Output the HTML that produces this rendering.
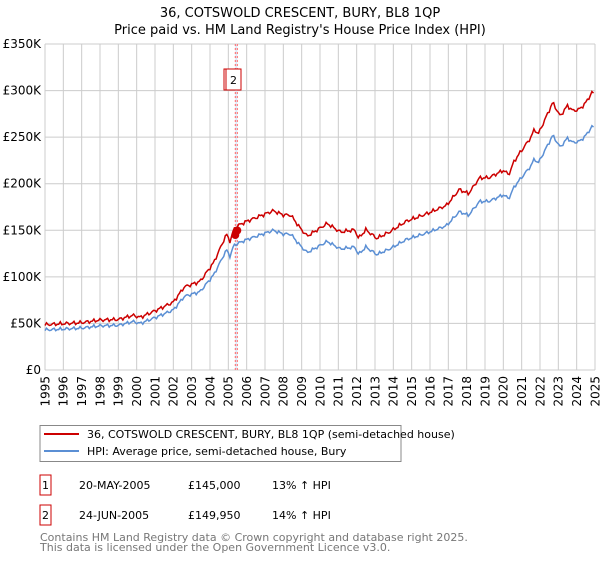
<!DOCTYPE html>
<html><head><meta charset="utf-8"><style>
body{margin:0;background:#fff;width:600px;height:560px;overflow:hidden;font-family:"DejaVu Sans","Liberation Sans",sans-serif;}
svg text{font-family:"DejaVu Sans","Liberation Sans",sans-serif;}
</style></head><body>
<svg id="s" width="600" height="560" xmlns="http://www.w3.org/2000/svg">
<text x="300" y="17" text-anchor="middle" font-size="13" fill="#000">36, COTSWOLD CRESCENT, BURY, BL8 1QP</text>
<text x="300" y="34" text-anchor="middle" font-size="13" fill="#000">Price paid vs. HM Land Registry's House Price Index (HPI)</text>
<g id="grid" stroke="#cccccc" stroke-width="1"></g>
<rect x="235.3" y="44" width="2" height="326" fill="#dde8f8"/>
<line x1="235.3" y1="44" x2="235.3" y2="370" stroke="#ff6666" stroke-dasharray="2,2"/>
<line x1="237.3" y1="44" x2="237.3" y2="370" stroke="#ff6666" stroke-dasharray="2,2"/>
<g id="ylab" font-size="12" fill="#000" text-anchor="end"></g>
<g id="xlab" font-size="12" fill="#000" text-anchor="end"></g>
<path id="blue" fill="none" stroke="#5b8fd4" stroke-width="1.5"/>
<path id="red" fill="none" stroke="#cc0000" stroke-width="1.5"/>
<circle cx="235.3" cy="235" r="4" fill="#cc0000"/>
<circle cx="237.3" cy="230.5" r="4" fill="#cc0000"/>
<rect x="224" y="69" width="15" height="21" fill="#fff" stroke="#cc0000"/>
<rect x="226" y="69" width="15" height="21" fill="#fff" stroke="#cc0000"/>
<text x="233.5" y="84" text-anchor="middle" font-size="11">2</text>
<rect x="40" y="425.5" width="361" height="36" fill="#fff" stroke="#888"/>
<line x1="44" y1="434" x2="79" y2="434" stroke="#cc0000" stroke-width="2"/>
<line x1="44" y1="451" x2="79" y2="451" stroke="#5b8fd4" stroke-width="2"/>
<text x="87" y="438" font-size="11">36, COTSWOLD CRESCENT, BURY, BL8 1QP (semi-detached house)</text>
<text x="87" y="455" font-size="11">HPI: Average price, semi-detached house, Bury</text>
<rect x="40" y="475" width="11" height="20" fill="none" stroke="#cc0000"/>
<text x="45.5" y="489" text-anchor="middle" font-size="11">1</text>
<text x="79" y="489" font-size="11">20-MAY-2005</text>
<text x="188" y="489" font-size="11">£145,000</text>
<text x="272" y="489" font-size="11">13% ↑ HPI</text>
<rect x="40" y="505" width="11" height="20" fill="none" stroke="#cc0000"/>
<text x="45.5" y="519" text-anchor="middle" font-size="11">2</text>
<text x="79" y="519" font-size="11">24-JUN-2005</text>
<text x="188" y="519" font-size="11">£149,950</text>
<text x="272" y="519" font-size="11">14% ↑ HPI</text>
<text x="40" y="541" font-size="11" fill="#777">Contains HM Land Registry data © Crown copyright and database right 2025.</text>
<text x="40" y="551" font-size="11" fill="#777">This data is licensed under the Open Government Licence v3.0.</text>
</svg>
<script>
var X0=45,YW=550/30,Y0=370,K=326/350;
function px(y){return X0+(y-1995)*YW}function py(v){return Y0-v*K}
var ns="http://www.w3.org/2000/svg",g=document.getElementById('grid'),yl=document.getElementById('ylab'),xl=document.getElementById('xlab');
function el(p,t,a,txt){var e=document.createElementNS(ns,t);for(var k in a)e.setAttribute(k,a[k]);if(txt)e.textContent=txt;p.appendChild(e);}
for(var i=0;i<=7;i++){var y=py(i*50);el(g,'line',{x1:X0,x2:595,y1:y,y2:y});el(yl,'text',{x:41,y:y+4},i?'£'+(i*50)+'K':'£0');}
for(var yr=1995;yr<=2025;yr++){var x=px(yr);el(g,'line',{x1:x,x2:x,y1:44,y2:370});var bx=x+4.3,by=376;el(xl,'text',{x:bx,y:by,transform:'rotate(-90 '+bx+' '+by+')'},''+yr);}
var P=[[1995,43],[1996,44],[1997,45],[1998,47.5],[1999,48],[1999.8,52],[2000.2,50],[2001.1,57],[2002,64.5],[2002.6,79],[2003.45,84],[2004.2,102],[2004.9,129],[2005.1,122],[2005.3,134],[2006,140],[2007.45,150],[2008,146],[2008.4,146],[2008.9,134],[2009.3,126],[2010.4,138],[2011.1,130],[2011.9,132],[2012.1,124],[2012.5,132],[2013.1,124],[2013.8,130],[2014.7,140],[2015.8,147],[2016.9,155],[2017.6,170],[2018.1,166],[2018.7,181],[2019.2,181],[2020,188],[2020.3,184],[2020.6,197],[2021.5,219],[2021.7,227],[2021.9,222],[2022.7,252],[2023.1,239],[2023.5,249],[2023.8,244],[2024.2,246],[2024.55,253],[2024.85,262],[2024.95,259]];
function val(t){for(var i=0;i<P.length-1;i++){if(t<=P[i+1][0]){var a=P[i],b=P[i+1];return a[1]+(b[1]-a[1])*(t-a[0])/(b[0]-a[0]);}}return P[P.length-1][1];}
var db='',dr='';
for(var t=1995;t<=2024.95;t+=1/12){var v=val(t)+1.2*Math.sin(t*17.3)+0.8*Math.sin(t*41.1);var f=t<2005.4?1.13:1.14;
db+=(db?'L':'M')+px(t).toFixed(1)+','+py(v).toFixed(1);dr+=(dr?'L':'M')+px(t).toFixed(1)+','+py(v*f).toFixed(1);}
document.getElementById('blue').setAttribute('d',db);document.getElementById('red').setAttribute('d',dr);
</script>
</body></html>
